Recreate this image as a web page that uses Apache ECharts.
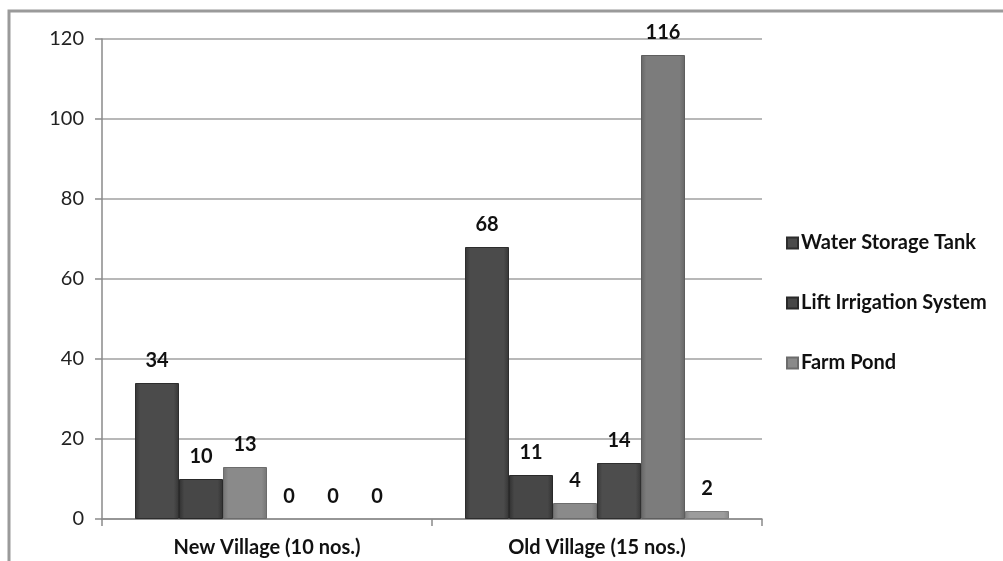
<!DOCTYPE html>
<html>
<head>
<meta charset="utf-8">
<script src="https://cdn.jsdelivr.net/npm/echarts@6/dist/echarts.min.js"></script>
<style>
html,body{margin:0;padding:0;background:#fff;}
#chart{width:1003px;height:561px;}
</style>
</head>
<body>
<div id="chart"></div>
<script>
const categories = ['New Village (10 nos.)', 'Old Village (15 nos.)'];
const seriesNames = ['Water Storage Tank', 'Lift Irrigation System', 'Farm Pond',
                     'Water Storage Tank ', 'Lift Irrigation System ', 'Farm Pond '];
const waterStorageTankA = [34, 68];
const liftIrrigationA = [10, 11];
const farmPondA = [13, 4];
const waterStorageTankB = [0, 14];
const liftIrrigationB = [0, 116];
const farmPondB = [0, 2];
const legendNames = ['Water Storage Tank', 'Lift Irrigation System', 'Farm Pond'];
const yTicks = [0, 20, 40, 60, 80, 100, 120];

const allValues = [waterStorageTankA, liftIrrigationA, farmPondA, waterStorageTankB, liftIrrigationB, farmPondB];
const baseColors = ['#4b4b4b', '#474747', '#8a8a8a', '#4d4d4d', '#7c7c7c', '#9c9c9c'];

function shade(hex, amt) {
  const n = parseInt(hex.slice(1), 16);
  let r = (n >> 16) + amt, g = ((n >> 8) & 255) + amt, b = (n & 255) + amt;
  r = Math.max(0, Math.min(255, r)); g = Math.max(0, Math.min(255, g)); b = Math.max(0, Math.min(255, b));
  return '#' + ((1 << 24) + (r << 16) + (g << 8) + b).toString(16).slice(1);
}

const chart = echarts.init(document.getElementById('chart'));
const series = allValues.map((vals, i) => ({
  name: seriesNames[i],
  type: 'bar',
  data: vals.map(v => v === 0 ? {value: v, itemStyle: {borderWidth: 0, opacity: 0}} : v),
  barGap: '0%',
  barCategoryGap: '20%',
  itemStyle: {
    color: new echarts.graphic.LinearGradient(0, 0, 1, 0, [
      {offset: 0, color: shade(baseColors[i], -22)},
      {offset: 0.12, color: baseColors[i]},
      {offset: 0.88, color: baseColors[i]},
      {offset: 1, color: shade(baseColors[i], -22)}
    ]),
    borderColor: shade(baseColors[i], -30),
    borderWidth: 1
  },
  label: {
    show: true,
    position: 'top',
    distance: 12,
    color: '#111',
    opacity: 1,
    fontFamily: 'Lato',
    fontWeight: 'bold',
    fontSize: 20
  }
}));

chart.setOption({
  backgroundColor: '#fff',
  animation: false,
  graphic: [{
    type: 'rect',
    shape: {x: 9, y: 11, width: 1100, height: 700},
    style: {fill: 'none', stroke: '#9a9a9a', lineWidth: 3},
    silent: true
  }],
  grid: {left: 102, right: 241, top: 39, bottom: 42, containLabel: false},
  legend: {
    data: legendNames.map((n, i) => ({name: n, itemStyle: {color: baseColors[i]}})),
    orient: 'vertical',
    left: 781,
    top: 228,
    itemGap: 40,
    itemWidth: 11,
    itemHeight: 11,
    icon: 'rect',
    selectedMode: false,
    textStyle: {fontFamily: 'Lato', fontWeight: 'bold', fontSize: 20, lineHeight: 20, color: '#111', padding: [0, 0, 0, -2]}
  },
  xAxis: {
    type: 'category',
    data: categories,
    axisLine: {lineStyle: {color: '#8a8a8a', width: 1.5}},
    axisTick: {show: true, length: 7, lineStyle: {color: '#8a8a8a', width: 1.5}},
    axisLabel: {fontFamily: 'Lato', fontWeight: 'bold', fontSize: 20, color: '#111', margin: 19}
  },
  yAxis: {
    type: 'value',
    min: yTicks[0],
    max: yTicks[yTicks.length - 1],
    interval: 20,
    axisLine: {show: true, lineStyle: {color: '#8a8a8a', width: 1.5}},
    axisTick: {show: true, length: 7, lineStyle: {color: '#8a8a8a', width: 1.5}},
    axisLabel: {fontFamily: 'Lato', fontSize: 20, color: '#222', margin: 18},
    splitLine: {lineStyle: {color: '#a0a0a0', width: 1.5}}
  },
  series: series
});
</script>
</body>
</html>
